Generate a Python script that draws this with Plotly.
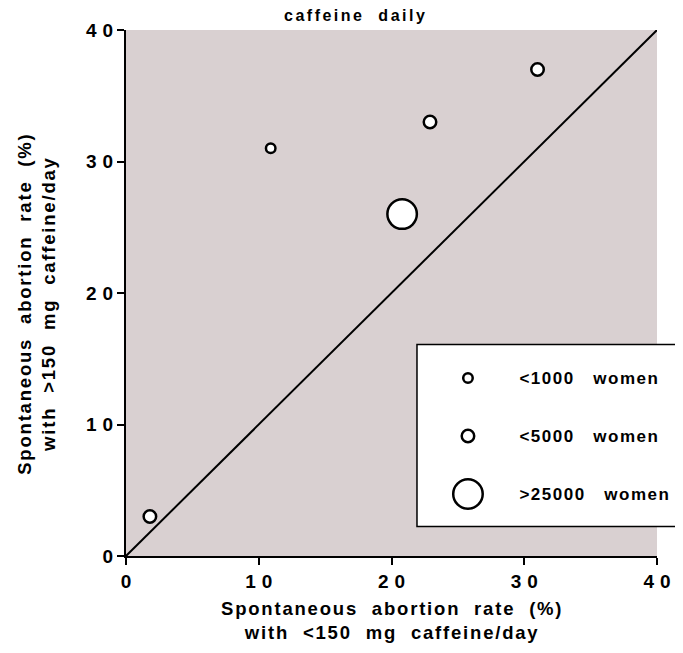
import plotly.graph_objects as go

# ---------------- data ----------------
rate_low_caffeine = [1.8, 10.9, 22.9, 31.0, 20.8]    # % with <150 mg caffeine/day
rate_high_caffeine = [3.0, 31.0, 33.0, 37.0, 26.0]   # % with >150 mg caffeine/day
study_size = ["<5000 women", "<1000 women", "<5000 women", "<5000 women", ">25000 women"]

size_classes = ["<1000 women", "<5000 women", ">25000 women"]

equality_x = [0, 40]
equality_y = [0, 40]

tick_vals = [0, 10, 20, 30, 40]
tick_labels = ["0", "10", "20", "30", "40"]

title_text = "caffeine daily"
x_title_lines = ["Spontaneous abortion rate (%)", "with <150 mg caffeine/day"]
y_title_lines = ["Spontaneous abortion rate (%)", "with >150 mg caffeine/day"]

# ---------------- styling helpers ----------------
FONT = "Liberation Sans, Arial, sans-serif"
PLOT_BG = "#d9d0d1"
marker_px = {"<1000 women": 9.5, "<5000 women": 12.5, ">25000 women": 29.5}


def esc(s):
    return s.replace("<", "&lt;").replace(">", "&gt;")


def spaced(s, ls=1.5, gap="\u00a0 "):
    s = esc(s).replace(" ", gap)
    return f'<span style="letter-spacing:{ls}px">{s}</span>'


def tick_fmt(s):
    if len(s) == 1:
        return s
    return f'<span style="letter-spacing:6px">{s[0]}</span>{s[1:]}'


fig = go.Figure()

# identity line
fig.add_trace(go.Scatter(
    x=equality_x, y=equality_y, mode="lines",
    line=dict(color="black", width=2), showlegend=False, hoverinfo="skip"))

# studies
fig.add_trace(go.Scatter(
    x=rate_low_caffeine, y=rate_high_caffeine, mode="markers",
    marker=dict(size=[marker_px[s] for s in study_size], color="white", opacity=1,
                line=dict(color="black", width=2.5)),
    showlegend=False, cliponaxis=False))

# custom legend (markers on a helper axis pair)
fig.add_trace(go.Scatter(
    x=[0] * len(size_classes), y=size_classes, xaxis="x2", yaxis="y2",
    mode="markers",
    marker=dict(size=[marker_px[s] for s in size_classes], color="white", opacity=1,
                line=dict(color="black", width=2.5)),
    showlegend=False, hoverinfo="skip", cliponaxis=False))

# plot background (as a shape so the legend box can sit on top of it)
fig.add_shape(type="rect", xref="paper", yref="paper", x0=0, x1=1, y0=0, y1=1,
              line=dict(width=0), fillcolor=PLOT_BG, layer="below")
# legend box
fig.add_shape(type="rect", xref="paper", yref="paper",
              x0=0.548, x1=1.2, y0=0.056, y1=0.402,
              line=dict(color="black", width=1.5), fillcolor="white",
              layer="below")

axis_common = dict(
    range=[0, 40], tickmode="array", tickvals=tick_vals,
    ticktext=[tick_fmt(t) for t in tick_labels],
    showgrid=False, zeroline=False, showline=True, linecolor="black",
    linewidth=2, ticks="outside", ticklen=7, tickwidth=2, tickcolor="black",
    tickfont=dict(family=FONT, size=19, color="black", weight="bold"),
    fixedrange=True,
)

fig.update_layout(
    width=675, height=645,
    margin=dict(l=118, r=24, t=13, b=97),
    paper_bgcolor="white", plot_bgcolor="rgba(0,0,0,0)",
    font=dict(family=FONT, color="black"),
    xaxis=dict(**axis_common),
    yaxis=dict(**axis_common),
    xaxis2=dict(domain=[0.564, 0.724], range=[-1, 1], visible=False,
                anchor="y2", fixedrange=True),
    yaxis2=dict(domain=[0.0626, 0.3935], anchor="x2", side="right",
                type="category", categoryarray=[">25000 women", "<5000 women", "<1000 women"],
                range=[-0.5, 2.5], showgrid=False, zeroline=False, showline=False,
                ticks="", tickmode="array", tickvals=size_classes,
                ticktext=[spaced(s, 1.5, "\u00a0\u00a0 ") for s in size_classes],
                tickfont=dict(family=FONT, size=17, color="black", weight="bold"),
                ticklabelstandoff=8, fixedrange=True),
    annotations=[
        dict(text=spaced(title_text, 2.5, "\u00a0 "), xref="paper", yref="paper",
             x=0.433, y=1.0, xanchor="center", yanchor="bottom", yshift=4,
             showarrow=False,
             font=dict(family=FONT, size=16, color="black", weight="bold")),
        dict(text="<br>".join(spaced(t, 1.8) for t in x_title_lines),
             xref="paper", yref="paper", x=0.5, y=-0.076,
             xanchor="center", yanchor="top", showarrow=False,
             font=dict(family=FONT, size=18.5, color="black", weight="bold")),
        dict(text="<br>".join(spaced(t, 1.8) for t in y_title_lines),
             xref="paper", yref="paper", x=-0.169, y=0.48, textangle=-90,
             xanchor="center", yanchor="middle", showarrow=False,
             font=dict(family=FONT, size=18.5, color="black", weight="bold")),
    ],
)

fig.write_html("out.html")
